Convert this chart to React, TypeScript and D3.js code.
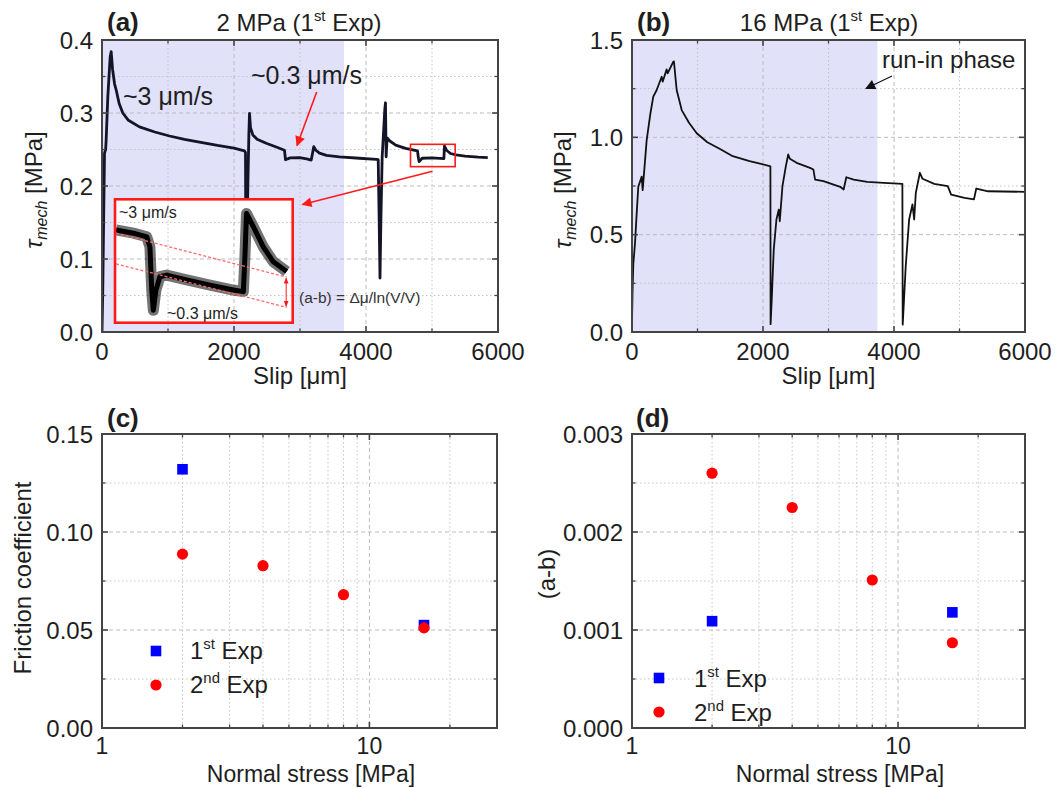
import React from 'react';
import * as d3 from 'd3';

const FONT = "'Liberation Sans', Arial, Helvetica, sans-serif";
const INK = '#1e1e1e';

// ---------- Panel (a): 2 MPa, 1st Exp ----------
const slipA = [0, 12, 23, 38, 55, 63, 88, 124, 139, 160, 190, 215, 260, 315, 400, 568, 800, 1023, 1250, 1477, 1750, 2000, 2159, 2174, 2180, 2195, 2210, 2225, 2235, 2250, 2285, 2350, 2488, 2650, 2765, 2780, 2850, 2992, 3100, 3170, 3190, 3209, 3240, 3295, 3400, 3598, 3900, 4155, 4185, 4200, 4212, 4225, 4245, 4270, 4285, 4295, 4305, 4320, 4356, 4450, 4600, 4780, 4795, 4805, 4850, 5000, 5180, 5189, 5220, 5280, 5365, 5500, 5700, 5845];
const tauA = [0, 0.06, 0.14, 0.245, 0.25, 0.263, 0.322, 0.377, 0.384, 0.36, 0.34, 0.3315, 0.313, 0.3, 0.29, 0.281, 0.274, 0.2685, 0.264, 0.26, 0.2555, 0.252, 0.248, 0.246, 0.12, 0.12, 0.2, 0.27, 0.2996, 0.28, 0.27, 0.264, 0.2585, 0.253, 0.249, 0.236, 0.2385, 0.239, 0.237, 0.2356, 0.245, 0.254, 0.249, 0.245, 0.242, 0.24, 0.238, 0.2366, 0.236, 0.15, 0.074, 0.15, 0.24, 0.28, 0.305, 0.314, 0.24, 0.266, 0.262, 0.256, 0.2515, 0.248, 0.238, 0.2333, 0.238, 0.2385, 0.2375, 0.2548, 0.249, 0.2445, 0.2425, 0.241, 0.2395, 0.2388];

// inset (zoom of the small red box)
const insetBoxSlip = [4674, 5351];
const insetBoxTau = [0.2265, 0.2571];
const insetSlip = [4678, 4744, 4795, 4807, 4814, 4820, 4830, 4845, 4871, 4947, 5036, 5125, 5163, 5169, 5175, 5201, 5239, 5277, 5328];
const insetTau = [0.2495, 0.2487, 0.2478, 0.2453, 0.2346, 0.2296, 0.2346, 0.2379, 0.2383, 0.2371, 0.2358, 0.2346, 0.2342, 0.2429, 0.2536, 0.2503, 0.2453, 0.2416, 0.2392];
const guideSlip = [4678, 5328];
const guideUpper = [0.2487, 0.2378];
const guideLower = [0.2411, 0.2303];

// ---------- Panel (b): 16 MPa, 1st Exp ----------
const slipB = [0, 8, 20, 46, 70, 96, 148, 163, 224, 280, 325, 377, 453, 468, 529, 544, 631, 640, 682, 759, 870, 988, 1150, 1344, 1538, 1795, 1954, 2103, 2113, 2116, 2133, 2164, 2205, 2241, 2256, 2297, 2349, 2385, 2410, 2513, 2718, 2769, 2795, 2923, 3179, 3231, 3272, 3385, 3590, 3846, 4128, 4133, 4179, 4231, 4282, 4308, 4333, 4395, 4436, 4615, 4821, 4872, 5077, 5221, 5256, 5436, 6000];
const tauB = [0.05, 0.2, 0.35, 0.456, 0.6, 0.746, 0.798, 0.729, 0.986, 1.12, 1.209, 1.243, 1.311, 1.286, 1.349, 1.329, 1.389, 1.39, 1.243, 1.14, 1.075, 1.021, 0.975, 0.94, 0.903, 0.878, 0.865, 0.852, 0.85, 0.04, 0.166, 0.423, 0.578, 0.629, 0.569, 0.749, 0.852, 0.912, 0.89, 0.869, 0.843, 0.835, 0.783, 0.775, 0.746, 0.732, 0.795, 0.783, 0.771, 0.766, 0.761, 0.038, 0.338, 0.578, 0.655, 0.578, 0.715, 0.818, 0.787, 0.761, 0.749, 0.706, 0.689, 0.681, 0.737, 0.723, 0.72];

const runInEndA = 3667;
const runInEndB = 3745;

// ---------- Panels (c), (d) ----------
const stress1st = [2, 16];
const friction1st = [0.132, 0.0525];
const ab1st = [0.00109, 0.00118];
const stress2nd = [2, 4, 8, 16];
const friction2nd = [0.0887, 0.0828, 0.068, 0.0511];
const ab2nd = [0.0026, 0.00225, 0.00151, 0.00087];

// ticks
const slipMajor = [0, 2000, 4000, 6000];
const slipMinor = [1000, 3000, 5000];
const tauAMajor = [0, 0.1, 0.2, 0.3, 0.4];
const tauAMinor = [0.05, 0.15, 0.25, 0.35];
const tauBMajor = [0, 0.5, 1.0, 1.5];
const tauBMinor = [0.25, 0.75, 1.25];
const stressMajor = [1, 10];
const stressMinor = [2, 3, 4, 5, 6, 7, 8, 9, 20];
const fricMajor = [0, 0.05, 0.1, 0.15];
const fricMinor = [0.025, 0.075, 0.125];
const abMajor = [0, 0.001, 0.002, 0.003];
const abMinor = [0.0005, 0.0015, 0.0025];

const TICK_FS = 24;
const TITLE_FS = 24;

type Box = { L: number; R: number; T: number; B: number };

function Grid({ box, x, y, xMajor, xMinor, yMajor, yMinor }: any) {
  const { L, R, T, B } = box as Box;
  const inside = (p: number, a: number, b: number) => p > Math.min(a, b) + 1 && p < Math.max(a, b) - 1;
  return (
    <g>
      {yMinor.map((v: number, i: number) => (
        <line key={'ym' + i} x1={L} x2={R} y1={y(v)} y2={y(v)} stroke="#c4c4c4" strokeWidth={1} strokeDasharray="1.5,2.5" />
      ))}
      {yMajor.filter((v: number) => inside(y(v), T, B)).map((v: number, i: number) => (
        <line key={'yM' + i} x1={L} x2={R} y1={y(v)} y2={y(v)} stroke="#bcbcbc" strokeWidth={1} strokeDasharray="4,3" />
      ))}
      {xMinor.filter((v: number) => inside(x(v), L, R)).map((v: number, i: number) => (
        <line key={'xm' + i} x1={x(v)} x2={x(v)} y1={T} y2={B} stroke="#c4c4c4" strokeWidth={1} strokeDasharray="1.5,2.5" />
      ))}
      {xMajor.filter((v: number) => inside(x(v), L, R)).map((v: number, i: number) => (
        <line key={'xM' + i} x1={x(v)} x2={x(v)} y1={T} y2={B} stroke="#bcbcbc" strokeWidth={1} strokeDasharray="4,3" />
      ))}
    </g>
  );
}

function Axes({ box, x, y, xMajor, xMinor, yMajor, yMinor, xFmt, yFmt, xfs = TICK_FS, xoff = 28 }: any) {
  const { L, R, T, B } = box as Box;
  const M = 6, m = 3.5;
  return (
    <g>
      {xMajor.map((v: number, i: number) => (
        <g key={'xt' + i}>
          <line x1={x(v)} x2={x(v)} y1={B} y2={B - M} stroke="#444" strokeWidth={1.6} />
          <line x1={x(v)} x2={x(v)} y1={T} y2={T + M} stroke="#444" strokeWidth={1.6} />
          <text x={x(v)} y={B + xoff} textAnchor="middle" fontSize={xfs} fill={INK}>{xFmt(v)}</text>
        </g>
      ))}
      {xMinor.map((v: number, i: number) => (
        <g key={'xmt' + i}>
          <line x1={x(v)} x2={x(v)} y1={B} y2={B - m} stroke="#444" strokeWidth={1.3} />
          <line x1={x(v)} x2={x(v)} y1={T} y2={T + m} stroke="#444" strokeWidth={1.3} />
        </g>
      ))}
      {yMajor.map((v: number, i: number) => (
        <g key={'yt' + i}>
          <line x1={L} x2={L + M} y1={y(v)} y2={y(v)} stroke="#444" strokeWidth={1.6} />
          <line x1={R} x2={R - M} y1={y(v)} y2={y(v)} stroke="#444" strokeWidth={1.6} />
          <text x={L - 9} y={y(v) + 8.5} textAnchor="end" fontSize={TICK_FS} fill={INK}>{yFmt(v)}</text>
        </g>
      ))}
      {yMinor.map((v: number, i: number) => (
        <g key={'ymt' + i}>
          <line x1={L} x2={L + m} y1={y(v)} y2={y(v)} stroke="#444" strokeWidth={1.3} />
          <line x1={R} x2={R - m} y1={y(v)} y2={y(v)} stroke="#444" strokeWidth={1.3} />
        </g>
      ))}
      <rect x={L} y={T} width={R - L} height={B - T} fill="none" stroke="#444" strokeWidth={2} />
    </g>
  );
}

function Sup({ x, y, pre, sup, post, size = 22, anchor = 'start' }: any) {
  return (
    <text x={x} y={y} fontSize={size} fill={INK} textAnchor={anchor}>
      {pre}
      <tspan fontSize={size * 0.62} dy={-size * 0.4}>{sup}</tspan>
      <tspan dy={size * 0.4}>{post}</tspan>
    </text>
  );
}

export default function App() {
  const A: Box = { L: 102, R: 498, T: 40, B: 332 };
  const Bp: Box = { L: 632, R: 1025, T: 40, B: 332 };
  const C: Box = { L: 102, R: 497, T: 434, B: 728 };
  const D: Box = { L: 632, R: 1025, T: 434, B: 728 };

  const xA = d3.scaleLinear().domain([0, 6000]).range([A.L, A.R]);
  const yA = d3.scaleLinear().domain([0, 0.4]).range([A.B, A.T]);
  const xB = d3.scaleLinear().domain([0, 6000]).range([Bp.L, Bp.R]);
  const yB = d3.scaleLinear().domain([0, 1.5]).range([Bp.B, Bp.T]);
  const xC = d3.scaleLog().domain([1, 30]).range([C.L, C.R]);
  const yC = d3.scaleLinear().domain([0, 0.15]).range([C.B, C.T]);
  const xD = d3.scaleLog().domain([1, 30]).range([D.L, D.R]);
  const yD = d3.scaleLinear().domain([0, 0.003]).range([D.B, D.T]);

  // inset geometry
  const IB = { x0: 115, x1: 292.7, y0: 199.3, y1: 322.7 };
  const xI = d3.scaleLinear().domain(insetBoxSlip).range([IB.x0, IB.x1]);
  const yI = d3.scaleLinear().domain(insetBoxTau).range([IB.y1, IB.y0]);

  const lineA = d3.line<number>().x((_, i) => xA(slipA[i])).y((d) => yA(d));
  const lineB = d3.line<number>().x((_, i) => xB(slipB[i])).y((d) => yB(d));
  const lineI = d3.line<number>().x((_, i) => xI(insetSlip[i])).y((d) => yI(d));
  const guideU = d3.line<number>().x((_, i) => xI(guideSlip[i])).y((d) => yI(d));

  const fmt1 = (v: number) => d3.format('.1f')(v);
  const fmtInt = (v: number) => String(v);
  const fmt2 = (v: number) => d3.format('.2f')(v);
  const fmt3 = (v: number) => d3.format('.3f')(v);

  const shade = '#e1e1fa';
  const red = '#ff1a1a';

  const smallBox = {
    x: xA(insetBoxSlip[0]), y: yA(insetBoxTau[1]),
    w: xA(insetBoxSlip[1]) - xA(insetBoxSlip[0]), h: yA(insetBoxTau[0]) - yA(insetBoxTau[1]),
  };

  return (
    <svg width={1061} height={788} style={{ position: 'absolute', left: 0, top: 0, background: '#fff' }} fontFamily={FONT}>
      <defs>
        <marker id="arrRed" viewBox="0 0 10 10" refX="9" refY="5" markerWidth="6" markerHeight="6" orient="auto-start-reverse" markerUnits="userSpaceOnUse">
          <path d="M0,1 L10,5 L0,9 z" fill={red} />
        </marker>
        <marker id="arrRedBig" viewBox="0 0 10 10" refX="9" refY="5" markerWidth="12" markerHeight="10" orient="auto" markerUnits="userSpaceOnUse">
          <path d="M0,0 L10,5 L0,10 z" fill={red} />
        </marker>
        <marker id="arrBlk" viewBox="0 0 10 10" refX="9" refY="5" markerWidth="13" markerHeight="10" orient="auto" markerUnits="userSpaceOnUse">
          <path d="M0,0 L10,5 L0,10 z" fill="#111" />
        </marker>
        <clipPath id="clipInset">
          <rect x={IB.x0} y={IB.y0} width={IB.x1 - IB.x0} height={IB.y1 - IB.y0} />
        </clipPath>
        <clipPath id="clipA">
          <rect x={A.L} y={A.T} width={A.R - A.L} height={A.B - A.T} />
        </clipPath>
      </defs>

      {/* ================= Panel (a) ================= */}
      <rect x={xA(0)} y={A.T} width={xA(runInEndA) - xA(0)} height={A.B - A.T} fill={shade} />
      <Grid box={A} x={xA} y={yA} xMajor={slipMajor} xMinor={slipMinor} yMajor={tauAMajor} yMinor={tauAMinor} />
      <path d={lineA(tauA) || ''} fill="none" stroke="#141428" strokeWidth={2.8} strokeLinejoin="round" clipPath="url(#clipA)" />
      <rect x={smallBox.x} y={smallBox.y} width={smallBox.w} height={smallBox.h} fill="none" stroke={red} strokeWidth={1.6} />

      {/* inset */}
      <rect x={IB.x0} y={IB.y0} width={IB.x1 - IB.x0} height={IB.y1 - IB.y0} fill="#fff" />
      <g clipPath="url(#clipInset)">
        <Grid box={A} x={xA} y={yA} xMajor={slipMajor} xMinor={slipMinor} yMajor={tauAMajor} yMinor={tauAMinor} />
        <path d={lineI(insetTau) || ''} fill="none" stroke="#000" strokeWidth={11} strokeLinejoin="round" strokeOpacity={0.55} />
        <path d={lineI(insetTau) || ''} fill="none" stroke="#000" strokeWidth={5} strokeLinejoin="round" />
        <path d={guideU(guideUpper) || ''} fill="none" stroke="#ff6a6a" strokeWidth={1.3} strokeDasharray="3,2" />
        <path d={guideU(guideLower) || ''} fill="none" stroke="#ff6a6a" strokeWidth={1.3} strokeDasharray="3,2" />
        <line x1={xI(guideSlip[1]) - 0.5} x2={xI(guideSlip[1]) - 0.5} y1={yI(guideUpper[1]) + 1} y2={yI(guideLower[1]) - 1}
          stroke={red} strokeWidth={1} markerStart="url(#arrRed)" markerEnd="url(#arrRed)" />
        <text x={IB.x0 + 4} y={IB.y0 + 19} fontSize={16} fill={INK}>~3 μm/s</text>
        <text x={IB.x0 + 52} y={IB.y1 - 4} fontSize={16} fill={INK}>~0.3 μm/s</text>
      </g>
      <rect x={IB.x0} y={IB.y0} width={IB.x1 - IB.x0} height={IB.y1 - IB.y0} fill="none" stroke={red} strokeWidth={2.6} />
      <text x={299} y={303} fontSize={15.5} fill="#333">(a-b) = Δμ/ln(V/V)</text>

      <line x1={432.5} y1={171.3} x2={302.5} y2={204.5} stroke={red} strokeWidth={1.6} markerEnd="url(#arrRedBig)" />
      <line x1={316.7} y1={92} x2={297} y2={145.5} stroke={red} strokeWidth={1.6} markerEnd="url(#arrRedBig)" />

      <text x={123} y={105} fontSize={25} fill={INK}>~3 μm/s</text>
      <text x={251} y={84} fontSize={25} fill={INK}>~0.3 μm/s</text>

      <Axes box={A} x={xA} y={yA} xMajor={slipMajor} xMinor={slipMinor} yMajor={tauAMajor} yMinor={tauAMinor} xFmt={fmtInt} yFmt={fmt1} />
      <text x={107} y={31} fontSize={26} fontWeight="bold" fill={INK}>(a)</text>
      <Sup x={299} y={31} pre="2 MPa (1" sup="st" post=" Exp)" size={TITLE_FS} anchor="middle" />
      <text x={(A.L + A.R) / 2} y={384} fontSize={TITLE_FS} textAnchor="middle" fill={INK}>Slip [μm]</text>
      <text transform="translate(42,190) rotate(-90)" fontSize={TITLE_FS} textAnchor="middle" fill={INK}>
        <tspan fontStyle="italic">τ</tspan>
        <tspan fontStyle="italic" fontSize={16} dy={5}>mech</tspan>
        <tspan dy={-5}> [MPa]</tspan>
      </text>

      {/* ================= Panel (b) ================= */}
      <rect x={xB(0)} y={Bp.T} width={xB(runInEndB) - xB(0)} height={Bp.B - Bp.T} fill={shade} />
      <Grid box={Bp} x={xB} y={yB} xMajor={slipMajor} xMinor={slipMinor} yMajor={tauBMajor} yMinor={tauBMinor} />
      <path d={lineB(tauB) || ''} fill="none" stroke="#111" strokeWidth={1.8} strokeLinejoin="round" />
      <text x={882} y={68} fontSize={TITLE_FS} fill={INK}>run-in phase</text>
      <line x1={892} y1={76} x2={866} y2={88.5} stroke="#111" strokeWidth={1.2} markerEnd="url(#arrBlk)" />
      <Axes box={Bp} x={xB} y={yB} xMajor={slipMajor} xMinor={slipMinor} yMajor={tauBMajor} yMinor={tauBMinor} xFmt={fmtInt} yFmt={fmt1} />
      <text x={637} y={31} fontSize={26} fontWeight="bold" fill={INK}>(b)</text>
      <Sup x={829} y={31} pre="16 MPa (1" sup="st" post=" Exp)" size={TITLE_FS} anchor="middle" />
      <text x={(Bp.L + Bp.R) / 2} y={384} fontSize={TITLE_FS} textAnchor="middle" fill={INK}>Slip [μm]</text>
      <text transform="translate(571,190) rotate(-90)" fontSize={TITLE_FS} textAnchor="middle" fill={INK}>
        <tspan fontStyle="italic">τ</tspan>
        <tspan fontStyle="italic" fontSize={16} dy={5}>mech</tspan>
        <tspan dy={-5}> [MPa]</tspan>
      </text>

      {/* ================= Panel (c) ================= */}
      <Grid box={C} x={xC} y={yC} xMajor={stressMajor} xMinor={stressMinor} yMajor={fricMajor} yMinor={fricMinor} />
      {stress1st.map((s, i) => (
        <rect key={'c1' + i} x={xC(s) - 5.3} y={yC(friction1st[i]) - 5.3} width={10.6} height={10.6} fill="#0000ff" />
      ))}
      {stress2nd.map((s, i) => (
        <circle key={'c2' + i} cx={xC(s)} cy={yC(friction2nd[i])} r={5.6} fill="#ff0000" />
      ))}
      <Axes box={C} x={xC} y={yC} xMajor={stressMajor} xMinor={stressMinor} yMajor={fricMajor} yMinor={fricMinor} xFmt={fmtInt} yFmt={fmt2} xfs={23} xoff={26} />
      <rect x={156 - 5.3} y={651 - 5.3} width={10.6} height={10.6} fill="#0000ff" />
      <circle cx={156} cy={685} r={5.6} fill="#ff0000" />
      <Sup x={190} y={659} pre="1" sup="st" post=" Exp" size={TITLE_FS} />
      <Sup x={190} y={693} pre="2" sup="nd" post=" Exp" size={TITLE_FS} />
      <text x={107} y={427} fontSize={26} fontWeight="bold" fill={INK}>(c)</text>
      <text x={311} y={782} fontSize={23} textAnchor="middle" fill={INK}>Normal stress [MPa]</text>
      <text transform="translate(31,578) rotate(-90)" fontSize={TITLE_FS} textAnchor="middle" fill={INK}>Friction coefficient</text>

      {/* ================= Panel (d) ================= */}
      <Grid box={D} x={xD} y={yD} xMajor={stressMajor} xMinor={stressMinor} yMajor={abMajor} yMinor={abMinor} />
      {stress1st.map((s, i) => (
        <rect key={'d1' + i} x={xD(s) - 5.3} y={yD(ab1st[i]) - 5.3} width={10.6} height={10.6} fill="#0000ff" />
      ))}
      {stress2nd.map((s, i) => (
        <circle key={'d2' + i} cx={xD(s)} cy={yD(ab2nd[i])} r={5.6} fill="#ff0000" />
      ))}
      <Axes box={D} x={xD} y={yD} xMajor={stressMajor} xMinor={stressMinor} yMajor={abMajor} yMinor={abMinor} xFmt={fmtInt} yFmt={fmt3} xfs={23} xoff={26} />
      <rect x={659 - 5.3} y={678 - 5.3} width={10.6} height={10.6} fill="#0000ff" />
      <circle cx={659} cy={712} r={5.6} fill="#ff0000" />
      <Sup x={694} y={687} pre="1" sup="st" post=" Exp" size={TITLE_FS} />
      <Sup x={694} y={721} pre="2" sup="nd" post=" Exp" size={TITLE_FS} />
      <text x={636} y={427} fontSize={26} fontWeight="bold" fill={INK}>(d)</text>
      <text x={840} y={782} fontSize={23} textAnchor="middle" fill={INK}>Normal stress [MPa]</text>
      <text transform="translate(555,574) rotate(-90)" fontSize={TITLE_FS} textAnchor="middle" fill={INK}>(a-b)</text>
    </svg>
  );
}
